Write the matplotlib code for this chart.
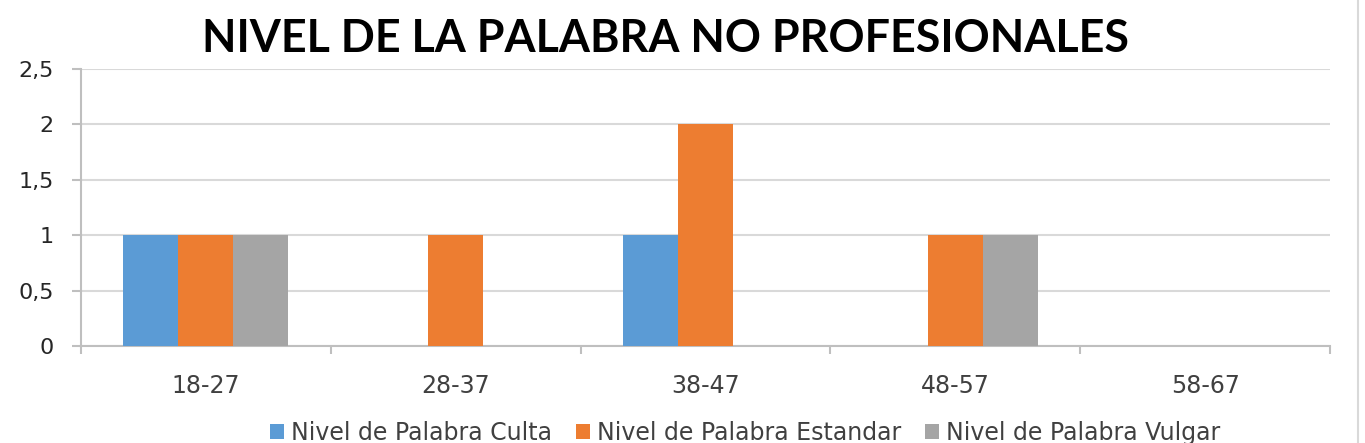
import matplotlib
matplotlib.use("Agg")
import matplotlib.pyplot as plt
import numpy as np

categories = ["18-27", "28-37", "38-47", "48-57", "58-67"]
series_names = ["Nivel de Palabra Culta", "Nivel de Palabra Estandar", "Nivel de Palabra Vulgar"]
culta = [1, 0, 1, 0, 0]
estandar = [1, 1, 2, 1, 0]
vulgar = [1, 0, 0, 1, 0]
colors = ["#5b9bd5", "#ed7d31", "#a5a5a5"]
yticks = [0, 0.5, 1, 1.5, 2, 2.5]
ytick_labels = ["0", "0,5", "1", "1,5", "2", "2,5"]

plt.rcParams['font.family'] = ['DejaVu Sans']

fig = plt.figure(figsize=(13.65, 4.43), dpi=100)
ax = fig.add_axes([81/1365, 1 - 346/443, (1330-81)/1365, (346-69)/443])

x = np.arange(len(categories))
w = 0.22
for i, (vals, name, c) in enumerate(zip([culta, estandar, vulgar], series_names, colors)):
    ax.bar(x + (i - 1) * w, vals, width=w, color=c, label=name, zorder=3)

ax.set_xlim(-0.5, len(categories) - 0.5)
ax.set_ylim(0, 2.5)
ax.set_yticks(yticks)
ax.set_yticklabels(ytick_labels, fontsize=16, color="#262626")
ax.set_xticks(x)
ax.set_xticklabels(categories, fontsize=17, color="#404040")
ax.tick_params(axis='x', length=0, pad=20)
ax.tick_params(axis='y', length=6.5, color="#bfbfbf", width=1.5, pad=13, direction='out')
ax.set_xticks(np.arange(len(categories) + 1) - 0.5, minor=True)
ax.tick_params(axis='x', which='minor', length=6, color="#bfbfbf", width=1.5)
ax.grid(axis='y', color="#d9d9d9", linewidth=1.5, zorder=0)
for s in ["top", "right"]:
    ax.spines[s].set_visible(False)
ax.spines["left"].set_color("#bfbfbf")
ax.spines["left"].set_linewidth(1.5)
ax.spines["bottom"].set_color("#bfbfbf")
ax.spines["bottom"].set_linewidth(1.5)

fig.text(665/1365, 1 - 39/443, "NIVEL DE LA PALABRA NO PROFESIONALES", ha="center", va="center",
         fontsize=32.2, fontweight="bold", color="#000000", family=["Lato", "DejaVu Sans"])

leg = fig.legend(loc="center", bbox_to_anchor=(745/1365, 1 - 433/443), ncol=3, frameon=False,
                 fontsize=17, handlelength=0.6, handleheight=0.6, handletextpad=0.3, columnspacing=1.0,
                 borderpad=0)
for t in leg.get_texts():
    t.set_color("#404040")

fig.add_artist(plt.Line2D([1358/1365, 1358/1365], [0, 1], color="#d9d9d9", linewidth=1.5))

fig.savefig("out.png", dpi=100)
